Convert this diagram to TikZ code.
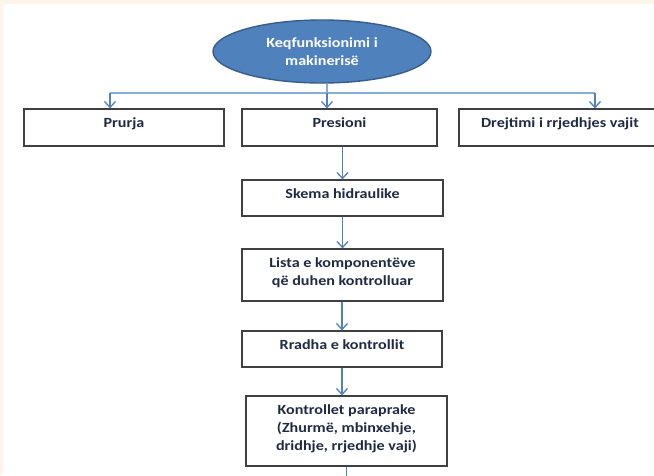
\documentclass[tikz,border=0pt]{standalone}
\usepackage{fontspec}
\setmainfont{Carlito}[FakeStretch=1.15]
\usetikzlibrary{arrows.meta, shapes.geometric}
\usepackage{xcolor}
\definecolor{cream}{HTML}{FDF5E8}
\definecolor{flowblue}{HTML}{4F81BD}
\definecolor{busblue}{HTML}{86ACDB}
\definecolor{keyborder}{HTML}{385D8A}
\definecolor{boxgray}{HTML}{404040}
\definecolor{textnavy}{HTML}{1F2A44}

\begin{document}
\begin{tikzpicture}[x=1pt,y=-1pt]
    \tikzstyle{box}=[rectangle, draw=boxgray, line width=1.2pt, inner sep=0pt]
    \tikzstyle{boxtext}=[anchor=north, yshift=-9pt, inner sep=0pt, align=center, text=textnavy, font=\bfseries\fontsize{14}{18}\selectfont]
    \tikzstyle{keynode}=[ellipse, draw=keyborder, line width=1.4pt, fill=flowblue, text=white, align=center, font=\bfseries\fontsize{14}{18}\selectfont, minimum width=218pt, minimum height=63pt, inner sep=0pt]
    \tikzstyle{flow}=[draw=flowblue, line width=1.3pt, -{Straight Barb[length=6pt,width=11pt]}]
    \tikzstyle{bus}=[draw=busblue, line width=1.1pt]

    \useasboundingbox (0,0) rectangle (654,475);
    \fill[cream] (0,0) rectangle (654,475);
    \fill[white] (3,4) rectangle (654,475);

    \node[keynode] (key) at (322,51.5) {Keqfunksionimi i\\makinerisë};

    \node[box, minimum width=200pt, minimum height=37pt, label={[boxtext]north:Prurja}] (prurja) at (124,127.5) {};
    \node[box, minimum width=195pt, minimum height=37pt, label={[boxtext]north:Presioni}] (presioni) at (339.5,127.5) {};
    \node[box, minimum width=202pt, minimum height=37pt, label={[boxtext]north:Drejtimi i rrjedhjes vajit}] (drejtimi) at (560,127.5) {};

    \node[box, minimum width=201pt, minimum height=36pt, label={[boxtext]north:Skema hidraulike}] (skema) at (342.5,198) {};
    \node[box, minimum width=201pt, minimum height=52pt, label={[boxtext]north:Lista e komponentëve\\që duhen kontrolluar}] (lista) at (342.5,275) {};
    \node[box, minimum width=200pt, minimum height=36pt, label={[boxtext]north:Rradha e kontrollit}] (rradha) at (342,349) {};
    \node[box, minimum width=201pt, minimum height=70pt, label={[boxtext]north:Kontrollet paraprake\\(Zhurmë, mbinxehje,\\dridhje, rrjedhje vaji)}] (kontrollet) at (346.5,431) {};

    \coordinate (bus-l) at (110,93);
    \coordinate (bus-c) at (327,93);
    \coordinate (bus-r) at (595,93);
    \coordinate (tail) at (346.5,480);

    \draw[bus] (bus-l) -- (bus-r);
    \draw[bus] (key.south -| bus-c) -- (bus-c);
    \draw[flow] (bus-l) -- (bus-l |- prurja.north);
    \draw[flow] (bus-c) -- (bus-c |- presioni.north);
    \draw[flow] (bus-r) -- (bus-r |- drejtimi.north);

    \draw[flow] (presioni.south -| skema.north) -- (skema.north);
    \draw[flow] (skema) -- (lista);
    \draw[flow] (lista.south -| rradha.north) -- (rradha.north);
    \draw[flow] (rradha.south) -- (rradha.south |- kontrollet.north);
    \draw[draw=flowblue, line width=1.3pt] (kontrollet.south) -- (tail);
\end{tikzpicture}
\end{document}
